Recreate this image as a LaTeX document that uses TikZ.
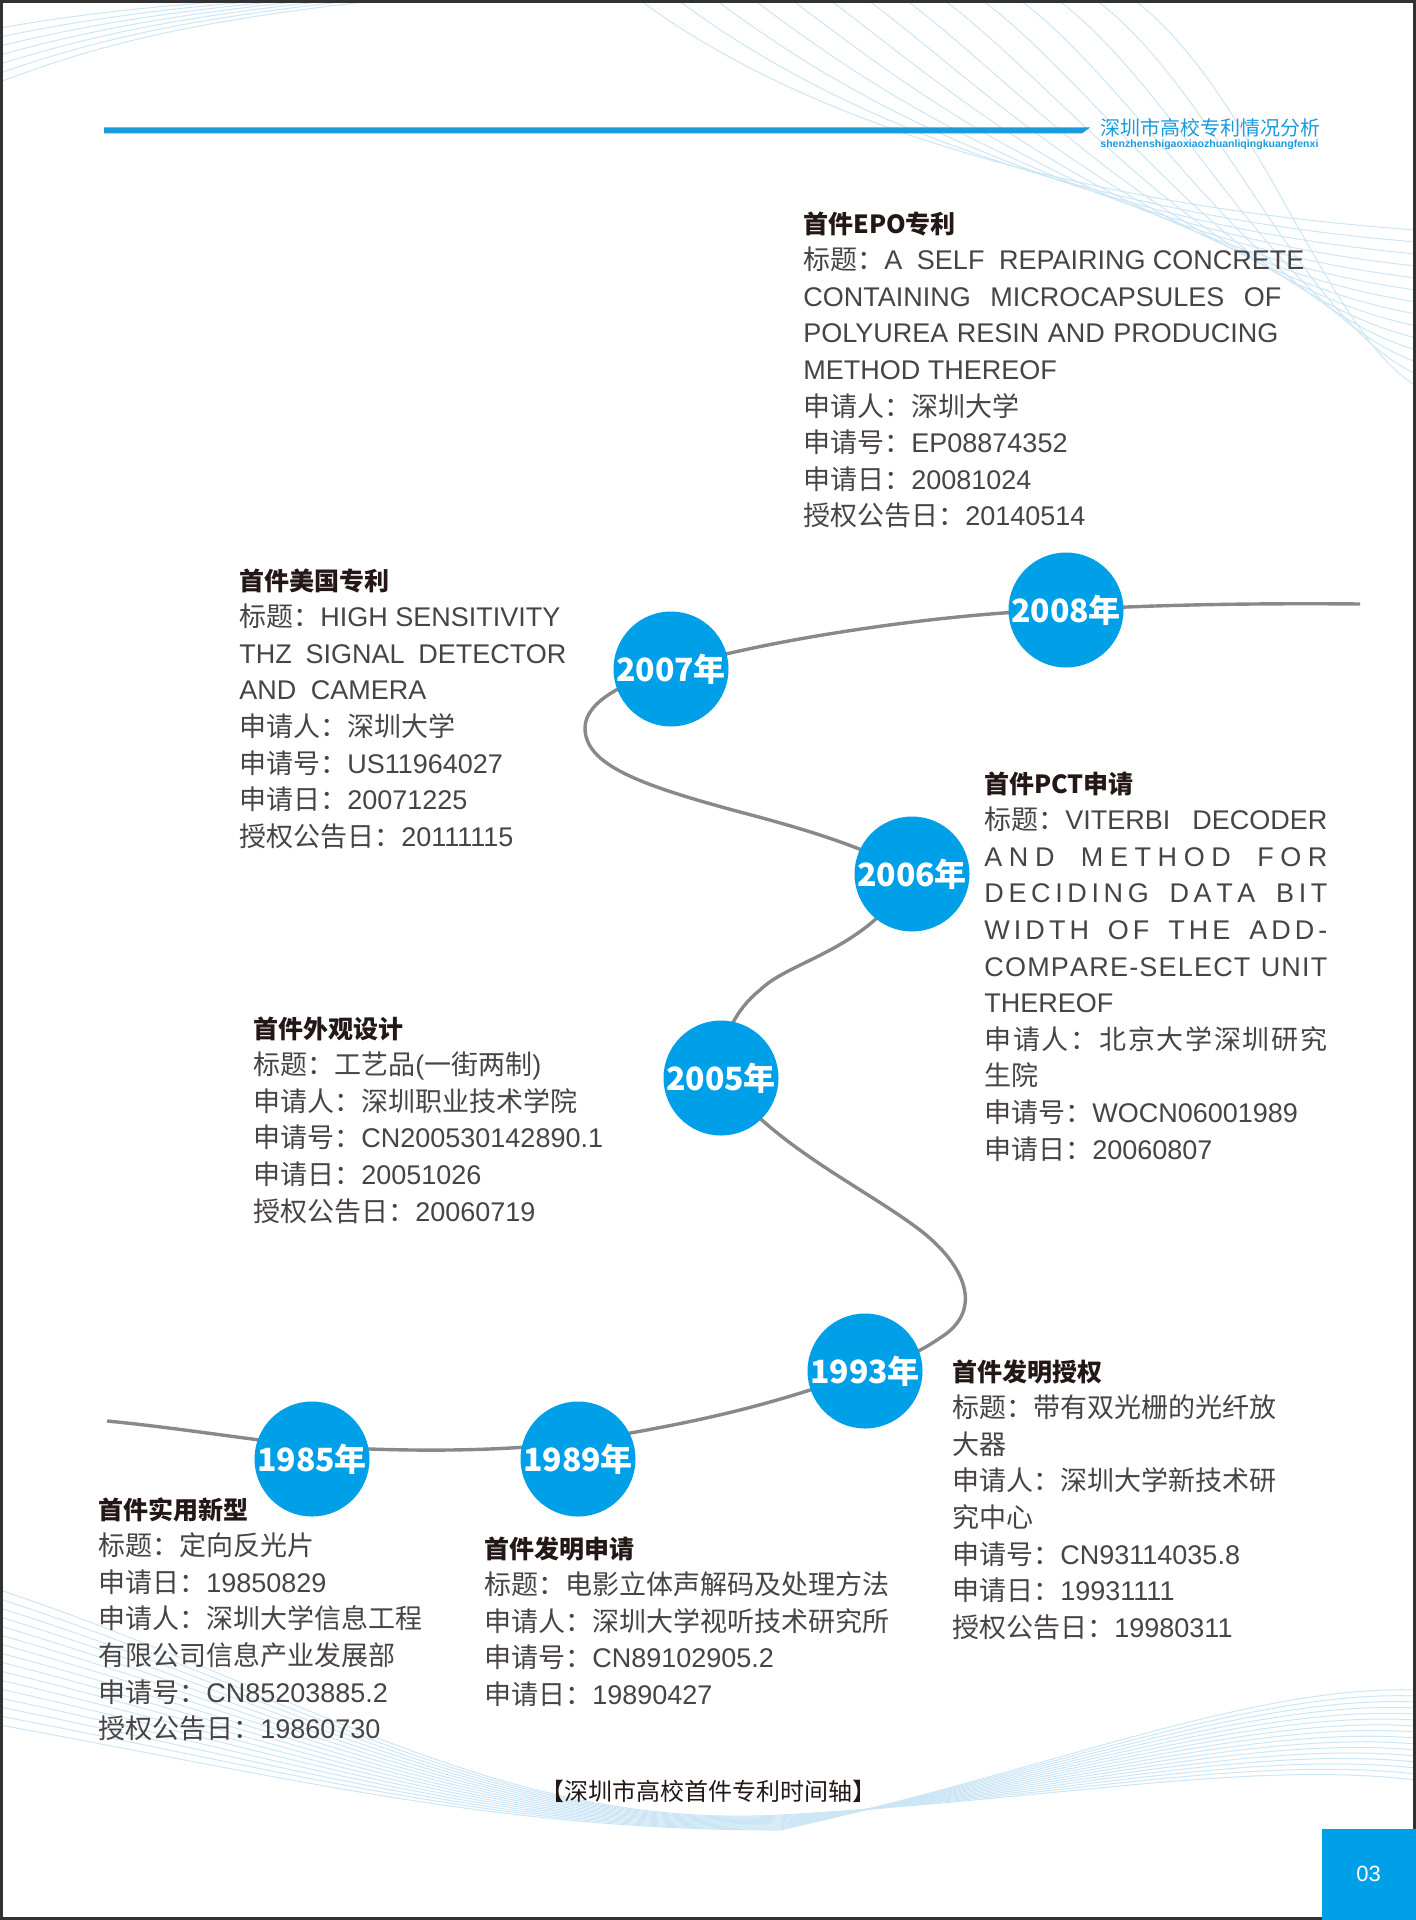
\documentclass[tikz,border=0pt]{standalone}
\usepackage{fontspec}
\usepackage{graphicx}
\setmainfont{Liberation Sans}
\newfontfamily\cjkfont{Noto Sans CJK SC}
\newfontfamily\latfont{Liberation Sans}
\usetikzlibrary{backgrounds}
% automatic switching between Latin and CJK fonts
\XeTeXinterchartokenstate=1
\newXeTeXintercharclass\CJKcls
\newcount\cjkc
\cjkc="3000 \loop \XeTeXcharclass\cjkc=\CJKcls \ifnum\cjkc<"303F \advance\cjkc by 1 \repeat
\cjkc="4E00 \loop \XeTeXcharclass\cjkc=\CJKcls \ifnum\cjkc<"9FFF \advance\cjkc by 1 \repeat
\cjkc="FF00 \loop \XeTeXcharclass\cjkc=\CJKcls \ifnum\cjkc<"FFEF \advance\cjkc by 1 \repeat
\XeTeXinterchartoks 0 \CJKcls = {\cjkfont}
\XeTeXinterchartoks 4095 \CJKcls = {\cjkfont}
\XeTeXinterchartoks \CJKcls 0 = {\latfont}
\XeTeXinterchartoks 4095 0 = {\latfont}
\definecolor{tlblue}{RGB}{0,160,233}
\definecolor{hblue}{RGB}{26,156,220}
\definecolor{lineg}{RGB}{137,137,137}
\definecolor{textg}{RGB}{72,68,67}
\definecolor{titlec}{RGB}{35,24,21}
\definecolor{bgline}{RGB}{205,230,246}
\definecolor{borderc}{RGB}{50,50,50}
\makeatletter
\def\sp@bar{|}
\newcommand\spread[2]{\hbox to #1{\@tfor\sp@x:=#2\do{\ifx\sp@x\sp@bar\hskip .25em plus 2fil\relax\else\sp@x\hskip 0pt plus 1fil\relax\fi}\unskip}}
\makeatother
\newcommand\nointerchar{\XeTeXinterchartokenstate=0\relax}
\newcommand\blktitle[1]{{\nointerchar\cjkfont\bfseries\fontsize{12.5}{18.3}\selectfont\color{titlec}#1}}
\newcommand\yrfont{\nointerchar\cjkfont\bfseries\fontsize{16}{16}\selectfont}
\newcommand\blkfont{\fontsize{13.5}{18.3}\selectfont}
\tikzset{
  blk/.style={anchor=north west, align=left, inner sep=0pt, text=textg, font=\blkfont},
  yr/.style={circle, fill=tlblue, minimum size=57.5pt, inner sep=0pt, text=white, font=\yrfont},
  tline/.style={draw=lineg, line width=1.7pt},
  bgl/.style={draw=bgline, line width=0.5pt}
}
\begin{document}
\begin{tikzpicture}[x=0.5pt,y=-0.5pt]
\useasboundingbox (0,0) rectangle (1416,1920);

% header
\fill[hblue] (104,127.5) -- (1090,127.5) -- (1082,133.5) -- (104,133.5) -- cycle;
\node[anchor=west, inner sep=0pt, text=hblue, font=\fontsize{10}{10}\selectfont] (htitle) at (1100,128) {深圳市高校专利情况分析};
\node[anchor=north west, inner sep=0pt, text=hblue] (hpy) at (1100,139) {\resizebox{109pt}{!}{\latfont\bfseries shenzhenshigaoxiaozhuanliqingkuangfenxi}};

% year circles
\node[yr] (y2008) at (1066,610) {2008年};
\node[yr] (y2007) at (671,669) {2007年};
\node[yr] (y2006) at (912,874) {2006年};
\node[yr] (y2005) at (721,1078) {2005年};
\node[yr] (y1993) at (865,1371) {1993年};
\node[yr] (y1989) at (578,1459) {1989年};
\node[yr] (y1985) at (312,1459) {1985年};

% curve helper points
\coordinate (rend) at (1360,604);
\coordinate (loopL) at (585,728);
\coordinate (loopM) at (740,812);
\coordinate (sA) at (760,990);
\coordinate (sB) at (920,1230);
\coordinate (sC) at (940,1338);
\coordinate (sD) at (578,1442);
\coordinate (sE) at (312,1446);
\coordinate (lend) at (107,1421);

\begin{scope}[on background layer]
  \fill[white] (0,0) rectangle (1416,1920);
  % faint decorative lines
  \foreach \k in {0,...,13}
    \draw[bgl] ({640+38*\k},0) .. controls ({760+38*\k},90) and ({1000+25*\k},{200+10*\k}) .. (1416,{230+12*\k});
  \foreach \k in {0,...,6}
    \draw[bgl] (0,{28+9*\k}) .. controls (90,{12+6*\k}) and (180,{4+3*\k}) .. ({250+22*\k},0);
  \foreach \k in {0,...,15}
    \draw[bgl] (0,{1590+9*\k}) .. controls (300,{1690+6*\k}) and (500,1830) .. (780,{1815+\k})
      .. controls (1050,{1800-2*\k}) and (1250,{1760-5*\k}) .. (1416,{1780-6*\k});
  % timeline
  \draw[tline] (rend) .. controls (1250,603) and (1150,605) .. (y2008.center)
    .. controls (950,612) and (760,640) .. (y2007.center)
    .. controls (630,680) and (585,700) .. (loopL)
    .. controls (585,765) and (640,785) .. (loopM)
    .. controls (820,833) and (870,850) .. (y2006.center)
    .. controls (870,950) and (790,960) .. (sA)
    .. controls (735,1010) and (720,1040) .. (y2005.center)
    .. controls (780,1150) and (860,1185) .. (sB)
    .. controls (965,1265) and (985,1310) .. (sC)
    .. controls (915,1355) and (890,1365) .. (y1993.center)
    .. controls (760,1410) and (680,1425) .. (sD)
    .. controls (500,1452) and (400,1452) .. (sE)
    .. controls (250,1440) and (180,1428) .. (lend);
\end{scope}

% text blocks
\node[blk] (epo) at (803,211) {\blktitle{首件EPO专利}\\
\makebox[250.5pt][s]{标题：A\ \ SELF\ \ REPAIRING CONCRETE}\\
\makebox[239pt][s]{CONTAINING\ \ MICROCAPSULES\ \ OF}\\
\makebox[237.5pt][s]{POLYUREA RESIN AND PRODUCING}\\
METHOD THEREOF\\
申请人：深圳大学\\
申请号：EP08874352\\
申请日：20081024\\
授权公告日：20140514};

\node[blk] (us) at (239,568) {\blktitle{首件美国专利}\\
标题：HIGH SENSITIVITY\\
\makebox[163.5pt][s]{THZ SIGNAL DETECTOR}\\
\makebox[93.5pt][s]{AND CAMERA}\\
申请人：深圳大学\\
申请号：US11964027\\
申请日：20071225\\
授权公告日：20111115};

\node[blk] (pct) at (984,771) {\blktitle{首件PCT申请}\\
\makebox[171.5pt][s]{标题：VITERBI DECODER}\\
\spread{171.5pt}{AND|METHOD|FOR}\\
\spread{171.5pt}{DECIDING|DATA|BIT}\\
\spread{171.5pt}{WIDTH|OF|THE|ADD-}\\
\spread{171.5pt}{COMPARE-SELECT|UNIT}\\
THEREOF\\
\spread{171.5pt}{申请人：北京大学深圳研究}\\
生院\\
申请号：WOCN06001989\\
申请日：20060807};

\node[blk] (design) at (253,1016) {\blktitle{首件外观设计}\\
标题：工艺品(一街两制)\\
申请人：深圳职业技术学院\\
申请号：CN200530142890.1\\
申请日：20051026\\
授权公告日：20060719};

\node[blk] (grant) at (952,1359) {\blktitle{首件发明授权}\\
标题：带有双光栅的光纤放\\
大器\\
申请人：深圳大学新技术研\\
究中心\\
申请号：CN93114035.8\\
申请日：19931111\\
授权公告日：19980311};

\node[blk] (utility) at (98,1497) {\blktitle{首件实用新型}\\
标题：定向反光片\\
申请日：19850829\\
申请人：深圳大学信息工程\\
有限公司信息产业发展部\\
申请号：CN85203885.2\\
授权公告日：19860730};

\node[blk] (invention) at (484,1536) {\blktitle{首件发明申请}\\
标题：电影立体声解码及处理方法\\
申请人：深圳大学视听技术研究所\\
申请号：CN89102905.2\\
申请日：19890427};

% caption
\node[inner sep=0pt, text=titlec, font=\fontsize{12}{12}\selectfont] (caption) at (708,1791) {【深圳市高校首件专利时间轴】};

% page border and page number
\draw[borderc, line width=1.2pt] (1.5,1.5) rectangle (1414.5,1918.5);
\node[fill=tlblue, anchor=south east, minimum width=47pt, minimum height=45.5pt, inner sep=0pt] (pgbox) at (1416,1920) {};
\node[text=white, font=\fontsize{11}{11}\selectfont] (pgnum) at (pgbox.center) {03};
\end{tikzpicture}
\end{document}
